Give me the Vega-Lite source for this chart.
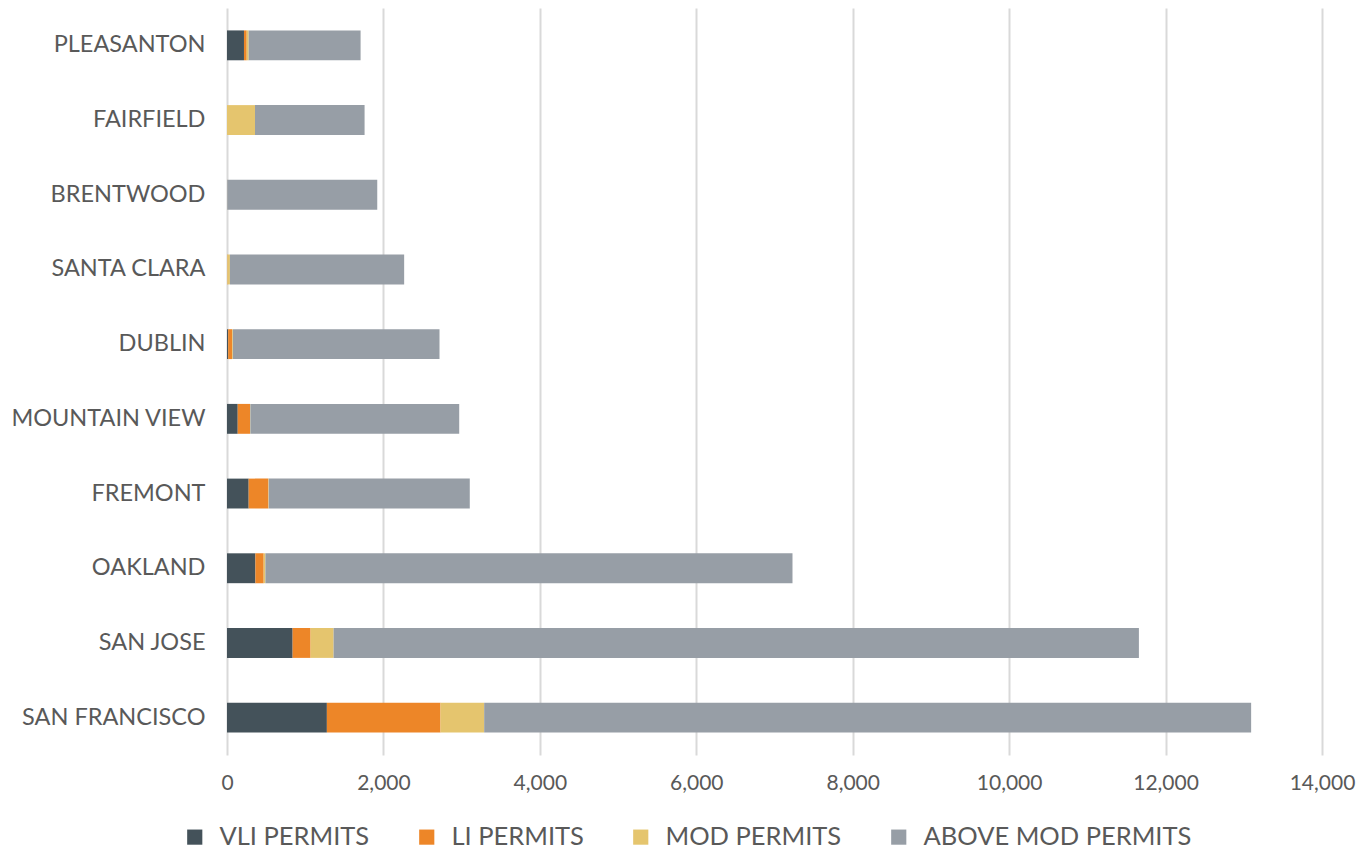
{
  "$schema": "https://vega.github.io/schema/vega-lite/v6.json",
  "width": 1095,
  "height": 747,
  "autosize": {"type": "none"},
  "padding": {"left": 227, "top": 8, "right": 35, "bottom": 96},
  "background": "white",
  "config": {
    "view": {"stroke": null},
    "font": "Lato",
    "axis": {"labelFont": "Lato", "labelColor": "#595959", "labelFontSize": 23.5, "domain": false, "ticks": false, "labelLimit": 300},
    "legend": {"labelFont": "Lato", "labelColor": "#595959", "labelFontSize": 25.5, "labelLimit": 400}
  },
  "data": {
    "values": [
      {"city": "PLEASANTON", "type": "VLI PERMITS", "permits": 217},
      {"city": "PLEASANTON", "type": "LI PERMITS", "permits": 35},
      {"city": "PLEASANTON", "type": "MOD PERMITS", "permits": 25},
      {"city": "PLEASANTON", "type": "ABOVE MOD PERMITS", "permits": 1431},
      {"city": "FAIRFIELD", "type": "VLI PERMITS", "permits": 0},
      {"city": "FAIRFIELD", "type": "LI PERMITS", "permits": 0},
      {"city": "FAIRFIELD", "type": "MOD PERMITS", "permits": 358},
      {"city": "FAIRFIELD", "type": "ABOVE MOD PERMITS", "permits": 1401},
      {"city": "BRENTWOOD", "type": "VLI PERMITS", "permits": 0},
      {"city": "BRENTWOOD", "type": "LI PERMITS", "permits": 0},
      {"city": "BRENTWOOD", "type": "MOD PERMITS", "permits": 3},
      {"city": "BRENTWOOD", "type": "ABOVE MOD PERMITS", "permits": 1918},
      {"city": "SANTA CLARA", "type": "VLI PERMITS", "permits": 0},
      {"city": "SANTA CLARA", "type": "LI PERMITS", "permits": 5},
      {"city": "SANTA CLARA", "type": "MOD PERMITS", "permits": 32},
      {"city": "SANTA CLARA", "type": "ABOVE MOD PERMITS", "permits": 2228},
      {"city": "DUBLIN", "type": "VLI PERMITS", "permits": 15},
      {"city": "DUBLIN", "type": "LI PERMITS", "permits": 50},
      {"city": "DUBLIN", "type": "MOD PERMITS", "permits": 10},
      {"city": "DUBLIN", "type": "ABOVE MOD PERMITS", "permits": 2642},
      {"city": "MOUNTAIN VIEW", "type": "VLI PERMITS", "permits": 137},
      {"city": "MOUNTAIN VIEW", "type": "LI PERMITS", "permits": 157},
      {"city": "MOUNTAIN VIEW", "type": "MOD PERMITS", "permits": 5},
      {"city": "MOUNTAIN VIEW", "type": "ABOVE MOD PERMITS", "permits": 2670},
      {"city": "FREMONT", "type": "VLI PERMITS", "permits": 277},
      {"city": "FREMONT", "type": "LI PERMITS", "permits": 252},
      {"city": "FREMONT", "type": "MOD PERMITS", "permits": 5},
      {"city": "FREMONT", "type": "ABOVE MOD PERMITS", "permits": 2570},
      {"city": "OAKLAND", "type": "VLI PERMITS", "permits": 363},
      {"city": "OAKLAND", "type": "LI PERMITS", "permits": 106},
      {"city": "OAKLAND", "type": "MOD PERMITS", "permits": 22},
      {"city": "OAKLAND", "type": "ABOVE MOD PERMITS", "permits": 6739},
      {"city": "SAN JOSE", "type": "VLI PERMITS", "permits": 839},
      {"city": "SAN JOSE", "type": "LI PERMITS", "permits": 230},
      {"city": "SAN JOSE", "type": "MOD PERMITS", "permits": 294},
      {"city": "SAN JOSE", "type": "ABOVE MOD PERMITS", "permits": 10296},
      {"city": "SAN FRANCISCO", "type": "VLI PERMITS", "permits": 1277},
      {"city": "SAN FRANCISCO", "type": "LI PERMITS", "permits": 1453},
      {"city": "SAN FRANCISCO", "type": "MOD PERMITS", "permits": 558},
      {"city": "SAN FRANCISCO", "type": "ABOVE MOD PERMITS", "permits": 9806}
    ]
  },
  "transform": [
    {"calculate": "indexof(['VLI PERMITS','LI PERMITS','MOD PERMITS','ABOVE MOD PERMITS'], datum.type)", "as": "stackOrder"}
  ],
  "mark": {"type": "bar", "height": {"band": 0.4}},
  "encoding": {
    "y": {
      "field": "city",
      "type": "nominal",
      "sort": ["PLEASANTON", "FAIRFIELD", "BRENTWOOD", "SANTA CLARA", "DUBLIN", "MOUNTAIN VIEW", "FREMONT", "OAKLAND", "SAN JOSE", "SAN FRANCISCO"],
      "scale": {"paddingInner": 0, "paddingOuter": 0},
      "axis": {"title": null, "labelPadding": 22, "grid": false}
    },
    "x": {
      "field": "permits",
      "type": "quantitative",
      "stack": "zero",
      "scale": {"domain": [0, 14000], "nice": false},
      "axis": {"title": null, "values": [0, 2000, 4000, 6000, 8000, 10000, 12000, 14000], "format": ",.0f", "labelFlush": false, "labelPadding": 17, "grid": true, "gridColor": "#d9d9d9", "gridWidth": 2, "labelFontSize": 21}
    },
    "color": {
      "field": "type",
      "type": "nominal",
      "sort": ["VLI PERMITS", "LI PERMITS", "MOD PERMITS", "ABOVE MOD PERMITS"],
      "scale": {
        "domain": ["VLI PERMITS", "LI PERMITS", "MOD PERMITS", "ABOVE MOD PERMITS"],
        "range": ["#44525a", "#ed8628", "#e5c56e", "#979ea6"]
      },
      "legend": {
        "title": null,
        "orient": "none",
        "direction": "horizontal",
        "legendX": -45,
        "legendY": 816,
        "symbolType": "square",
        "symbolSize": 230,
        "symbolStrokeWidth": 0,
        "labelOffset": 12,
        "columnPadding": 44
      }
    },
    "order": {"field": "stackOrder", "type": "quantitative", "sort": "ascending"}
  }
}
